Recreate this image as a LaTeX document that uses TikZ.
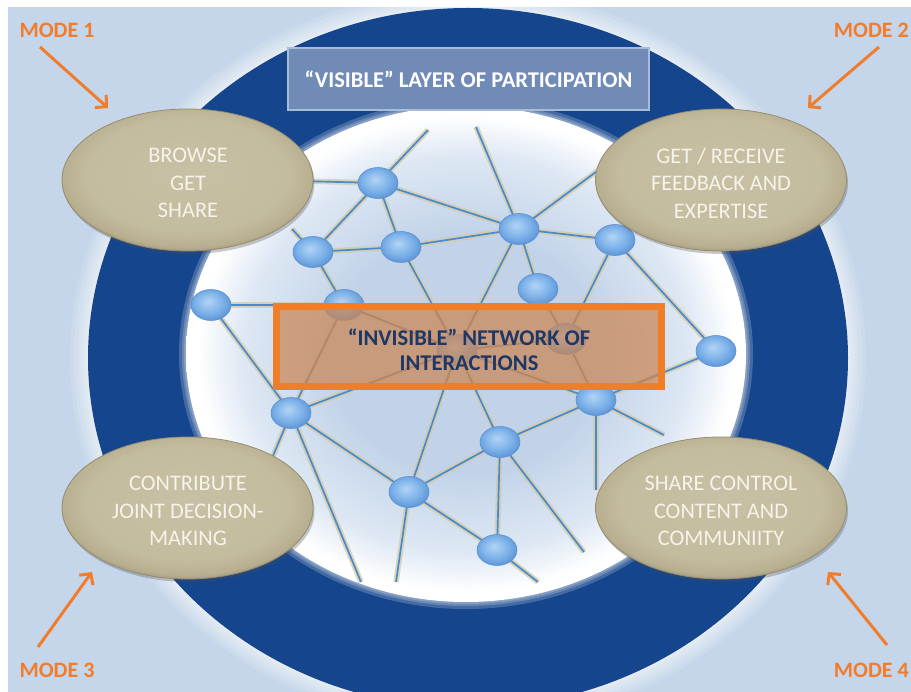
\documentclass[tikz,border=0pt]{standalone}
\usepackage{fontspec}
\setmainfont{Carlito}
\usetikzlibrary{shapes.geometric,arrows.meta,shadows}
\definecolor{bgblue}{RGB}{197,214,234}
\definecolor{ringblue}{RGB}{21,69,141}
\definecolor{innerC}{RGB}{194,211,233}
\definecolor{innerM}{RGB}{222,232,244}
\definecolor{tanL}{RGB}{200,192,164}
\definecolor{tanM}{RGB}{196,188,158}
\definecolor{tanE}{RGB}{184,175,145}
\definecolor{tanD}{RGB}{150,140,112}
\definecolor{ovaltext}{RGB}{246,243,234}
\definecolor{netL}{RGB}{178,212,246}
\definecolor{netM}{RGB}{122,176,232}
\definecolor{netD}{RGB}{92,148,214}
\definecolor{netborder}{RGB}{96,146,208}
\definecolor{edgeblue}{RGB}{72,138,208}
\definecolor{edgetan}{RGB}{212,202,164}
\definecolor{boxorange}{RGB}{240,125,40}
\definecolor{boxfill}{RGB}{204,134,84}
\definecolor{invtext}{RGB}{30,55,100}
\definecolor{visfill}{RGB}{112,139,182}
\definecolor{visedge}{RGB}{168,188,216}
\definecolor{modeorange}{RGB}{240,125,45}
\pgfdeclareradialshading{innershade}{\pgfpoint{0bp}{0bp}}{color(0bp)=(innerC); color(12bp)=(innerC); color(20bp)=(innerM); color(24bp)=(white); color(50bp)=(white)}
\pgfdeclareradialshading{tanshade}{\pgfpoint{0bp}{3bp}}{color(0bp)=(tanL); color(20bp)=(tanM); color(25bp)=(tanE); color(28bp)=(tanD); color(50bp)=(tanD)}
\pgfdeclareradialshading{netshade}{\pgfpoint{-4bp}{6bp}}{color(0bp)=(netL); color(18bp)=(netM); color(28bp)=(netD); color(50bp)=(netD)}
\pgfdeclarelayer{bg}
\pgfdeclarelayer{edges}
\pgfsetlayers{bg,edges,main}
\begin{document}
\begin{tikzpicture}[x=1pt,y=-1pt,
  netnode/.style={ellipse, minimum width=40pt, minimum height=31pt, inner sep=0pt, shade, shading=netshade, draw=netborder, line width=0.6pt},
  netedge/.style={draw=edgeblue, line width=1.7pt, preaction={draw=edgetan, line width=5.5pt, opacity=0.75}},
  modeoval/.style={ellipse, minimum width=251pt, minimum height=142pt, inner sep=0pt, shade, shading=tanshade, draw=tanD, line width=0.8pt, drop shadow={shadow xshift=1.5pt, shadow yshift=-3pt, opacity=0.3, fill=black!70}},
  ovaltxt/.style={text=ovaltext, align=center, inner sep=0pt, font=\fontsize{22.3}{27.5}\selectfont},
  invbox/.style={rectangle, draw=boxorange, line width=7pt, fill=boxfill, fill opacity=0.72, minimum width=385pt, minimum height=80pt, inner sep=0pt},
  invtxt/.style={align=center, text=invtext, inner sep=0pt, font=\bfseries\fontsize{22.5}{25}\selectfont},
  visbox/.style={rectangle, draw=visedge, line width=2.5pt, fill=visfill, minimum width=361pt, minimum height=62pt, inner sep=0pt, text=white, font=\bfseries\fontsize{22.5}{26}\selectfont},
  modelabel/.style={text=modeorange, font=\bfseries\fontsize{22}{26}\selectfont, inner sep=0pt},
  modearrow/.style={draw=modeorange, line width=3pt, -{Straight Barb[length=8pt,width=17pt]}}
]
\useasboundingbox (0,0) rectangle (911,692);
\begin{pgfonlayer}{bg}
  \fill[bgblue] (0,0) rectangle (911,692);
  \fill[white] (0,0) rectangle (911,7);
  \fill[white] (0,0) rectangle (8,692);
  \foreach \d in {18,14,10,7,4,2}
    \fill[white, opacity=0.13] (468,358) ellipse [x radius=380pt+\d pt, y radius=350pt+\d pt];
  \fill[ringblue] (468,358) ellipse [x radius=380pt, y radius=350pt];
  \foreach \d in {7,4,2}
    \fill[white, opacity=0.2] (466,354) ellipse [x radius=280pt+\d pt, y radius=248pt+\d pt];
  \shade[shading=innershade] (466,354) ellipse [x radius=280pt, y radius=248pt];
\end{pgfonlayer}

% network nodes
\node[netnode] (n1) at (378,183) {};
\node[netnode] (n2) at (519,229) {};
\node[netnode] (n3) at (615,240) {};
\node[netnode] (n4) at (313,252) {};
\node[netnode] (n5) at (401,247) {};
\node[netnode] (n6) at (538,289) {};
\node[netnode] (n7) at (211,305) {};
\node[netnode] (n8) at (344,305) {};
\node[netnode] (n9) at (566,339) {};
\node[netnode] (n10) at (716,351) {};
\node[netnode] (n11) at (457,350) {};
\node[netnode] (n12) at (291,413) {};
\node[netnode] (n13) at (596,400) {};
\node[netnode] (n14) at (500,442) {};
\node[netnode] (n15) at (409,492) {};
\node[netnode] (n16) at (497,550) {};
\coordinate (f1) at (428,130);
\coordinate (f2) at (476,127);
\coordinate (f3) at (300,181);
\coordinate (f4) at (612,160);
\coordinate (f5) at (292,229);
\coordinate (f6) at (262,482);
\coordinate (f7) at (361,582);
\coordinate (f8) at (396,582);
\coordinate (f9) at (538,582);
\coordinate (f10) at (584,552);
\coordinate (f11) at (596,490);
\coordinate (f12) at (664,435);

\begin{pgfonlayer}{edges}
  \foreach \a/\b in {n1/f1, f2/n2, n1/f3, n2/f4, n4/f5, n12/f6, n12/f7, n15/f8, n16/f9, n14/f10, n13/f11, n13/f12,
    n1/n2, n1/n4, n1/n5, n4/n5, n5/n2, n2/n3, n2/n6, n2/n11, n5/n11, n4/n8, n3/n9, n3/n10,
    n7/n8, n7/n12, n8/n12, n8/n11, n12/n11, n12/n15, n15/n16, n15/n14, n15/n11, n14/n11,
    n14/n16, n14/n13, n13/n10, n6/n9, n9/n13, n9/n11, n11/n13}
    \draw[netedge] (\a.center) -- (\b.center);
\end{pgfonlayer}

% central box
\node[invbox] (inv) at (469,346.5) {};
\node[invtxt] (invt) at (469,350) {“INVISIBLE” NETWORK OF\\INTERACTIONS};

% mode ovals
\node[modeoval] (o1) at (187.5,180) {};
\node[modeoval] (o2) at (721,180) {};
\node[modeoval] (o3) at (187.5,508) {};
\node[modeoval] (o4) at (721,508) {};
\node[ovaltxt] (o1t) at (188,183) {BROWSE\\GET\\SHARE};
\node[ovaltxt] (o2t) at (721,183) {GET / RECEIVE\\FEEDBACK AND\\EXPERTISE};
\node[ovaltxt] (o3t) at (188,511) {CONTRIBUTE\\JOINT DECISION-\\MAKING};
\node[ovaltxt] (o4t) at (721,511) {SHARE CONTROL\\CONTENT AND\\COMMUNIITY};

% visible layer box
\node[visbox] (vis) at (468.5,79) {“VISIBLE” LAYER OF PARTICIPATION};

% mode labels and arrows
\node[modelabel] (m1) at (57,30) {MODE 1};
\node[modelabel, anchor=east] (m2) at (909,30) {MODE 2};
\node[modelabel] (m3) at (57,670) {MODE 3};
\node[modelabel, anchor=east] (m4) at (909,670) {MODE 4};
\coordinate (a1s) at (40,47);   \coordinate (a1e) at (108,108);
\coordinate (a2s) at (879,47);  \coordinate (a2e) at (808,108);
\coordinate (a3s) at (38,647);  \coordinate (a3e) at (92,572);
\coordinate (a4s) at (887,645); \coordinate (a4e) at (828,572);
\draw[modearrow] (a1s) -- (a1e);
\draw[modearrow] (a2s) -- (a2e);
\draw[modearrow] (a3s) -- (a3e);
\draw[modearrow] (a4s) -- (a4e);
\end{tikzpicture}
\end{document}
